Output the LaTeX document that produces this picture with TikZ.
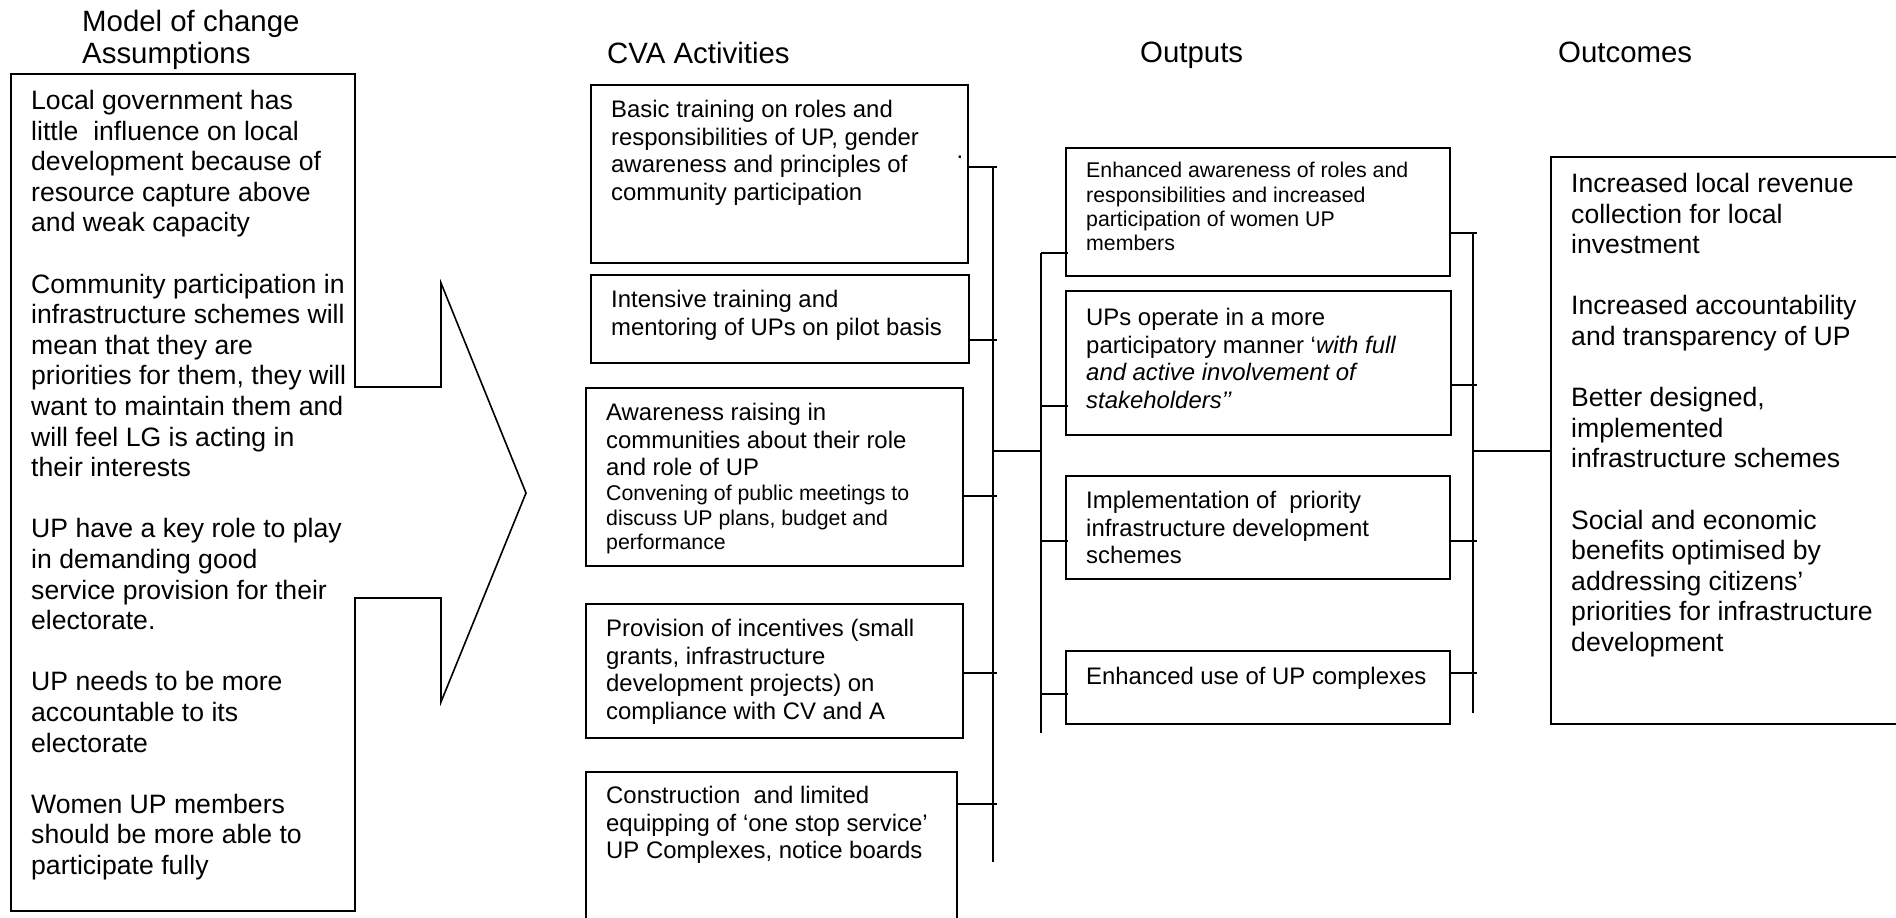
\documentclass[tikz,border=0pt]{standalone}
\usepackage{fontspec}
\setmainfont{Liberation Sans}
\usetikzlibrary{positioning}

\begin{document}
\begin{tikzpicture}[
    x=1pt, y=-1pt,
    cbox/.style={draw, line width=1.6pt, inner sep=0pt, anchor=north west},
    txt/.style={anchor=north west, align=left, inner xsep=21pt, inner ysep=16pt},
    bigtxt/.style={txt, font=\fontsize{26.6}{30.6}\selectfont},
    midtxt/.style={txt, font=\fontsize{23.9}{27.5}\selectfont},
    smalltxt/.style={txt, font=\fontsize{21.3}{24.4}\selectfont},
    heading/.style={anchor=north west, align=left, inner sep=0pt, font=\fontsize{29.4}{32}\selectfont},
    link/.style={line width=1.6pt}
]
\useasboundingbox (0,0) rectangle (1896,918);
\clip (0,0) rectangle (1896,918);

\node[heading] (hasm) at (82,10) {Model of change\\Assumptions};
\node[heading] (hact) at (607,42) {CVA Activities};
\node[heading] (hout) at (1140,42) {Outputs};
\node[heading] (hocm) at (1558,42) {Outcomes};

\coordinate (asm) at (11,74);
\coordinate (tip) at (526,493);
\draw[link] (asm) -- (355,74) -- (355,387) -- (441,387) -- (441,283) -- (tip)
    -- (441,702) -- (441,598) -- (355,598) -- (355,911) -- (11,911) -- cycle;
\node[bigtxt, inner xsep=20pt] (asmtxt) at (asm) {Local government has\\little\ \ influence on local\\development because of\\resource capture above\\and weak capacity\\[30.6pt]Community participation in\\infrastructure schemes will\\mean that they are\\priorities for them, they will\\want to maintain them and\\will feel LG is acting in\\their interests\\[30.6pt]UP have a key role to play\\in demanding good\\service provision for their\\electorate.\\[30.6pt]UP needs to be more\\accountable to its\\electorate\\[30.6pt]Women UP members\\should be more able to\\participate fully};

\node[cbox, minimum width=377, minimum height=178] (act1) at (590,84) {};
\node[midtxt] (act1txt) at (act1.north west) {Basic training on roles and\\responsibilities of UP, gender\\awareness and principles of\\community participation};
\node[font=\fontsize{23.9}{27.5}\selectfont, inner sep=0pt, anchor=base] (dot) at (960,158) {.};
\node[cbox, minimum width=378, minimum height=88] (act2) at (590,274) {};
\node[midtxt] (act2txt) at (act2.north west) {Intensive training and\\mentoring of UPs on pilot basis};
\node[cbox, minimum width=377, minimum height=178] (act3) at (585,387) {};
\node[midtxt] (act3txt) at (act3.north west) {Awareness raising in\\communities about their role\\and role of UP};
\node[smalltxt] (act3sub) at ([yshift=-82pt]act3.north west) {Convening of public meetings to\\discuss UP plans, budget and\\performance};
\node[cbox, minimum width=377, minimum height=134] (act4) at (585,603) {};
\node[midtxt] (act4txt) at (act4.north west) {Provision of incentives (small\\grants, infrastructure\\development projects) on\\compliance with CV and A};
\node[cbox, minimum width=371, minimum height=220] (act5) at (585,771) {};
\node[midtxt, inner ysep=15pt] (act5txt) at (act5.north west) {Construction\ \ and limited\\equipping of ‘one stop service’\\UP Complexes, notice boards};

\node[cbox, minimum width=384, minimum height=128] (out1) at (1065,147) {};
\node[smalltxt, inner ysep=15pt] (out1txt) at (out1.north west) {Enhanced awareness of roles and\\responsibilities and increased\\participation of women UP\\members};
\node[cbox, minimum width=385, minimum height=144] (out2) at (1065,290) {};
\node[midtxt, inner ysep=18pt] (out2txt) at (out2.north west) {UPs operate in a more\\participatory manner ‘\textit{with full}\\\textit{and active involvement of}\\\textit{stakeholders’’}};
\node[cbox, minimum width=384, minimum height=103] (out3) at (1065,475) {};
\node[midtxt] (out3txt) at (out3.north west) {Implementation of\ \ priority\\infrastructure development\\schemes};
\node[cbox, minimum width=384, minimum height=73] (out4) at (1065,650) {};
\node[midtxt, inner ysep=17pt] (out4txt) at (out4.north west) {Enhanced use of UP complexes};

\node[cbox, minimum width=420, minimum height=567] (ocm) at (1550,156) {};
\node[bigtxt, inner ysep=17pt] (ocmtxt) at (ocm.north west) {Increased local revenue\\collection for local\\investment\\[30.6pt]Increased accountability\\and transparency of UP\\[30.6pt]Better designed,\\implemented\\infrastructure schemes\\[30.6pt]Social and economic\\benefits optimised by\\addressing citizens’\\priorities for infrastructure\\development};

\coordinate (abar) at (993,166);
\coordinate (obarl) at (1041,253);
\coordinate (obarr) at (1473,233);
\draw[link] (abar) -- (993,862);
\draw[link] (obarl) -- (1041,733);
\draw[link] (obarr) -- (1473,713);
\foreach \n/\y in {1/167, 2/340, 3/496, 4/673, 5/804}
    \draw[link] (act\n.east |- 0,\y) -- (997,\y);
\foreach \n/\y in {1/253, 2/406, 3/541, 4/694}
    \draw[link] (obarl |- 0,\y) -- (1068,\y);
\foreach \n/\y in {1/233, 2/385, 3/541, 4/673}
    \draw[link] (out\n.east |- 0,\y) -- (1477,\y);
\draw[link] (abar |- 0,451) -- (obarl |- 0,451);
\draw[link] (obarr |- 0,451) -- (ocm.west |- 0,451);
\end{tikzpicture}
\end{document}
